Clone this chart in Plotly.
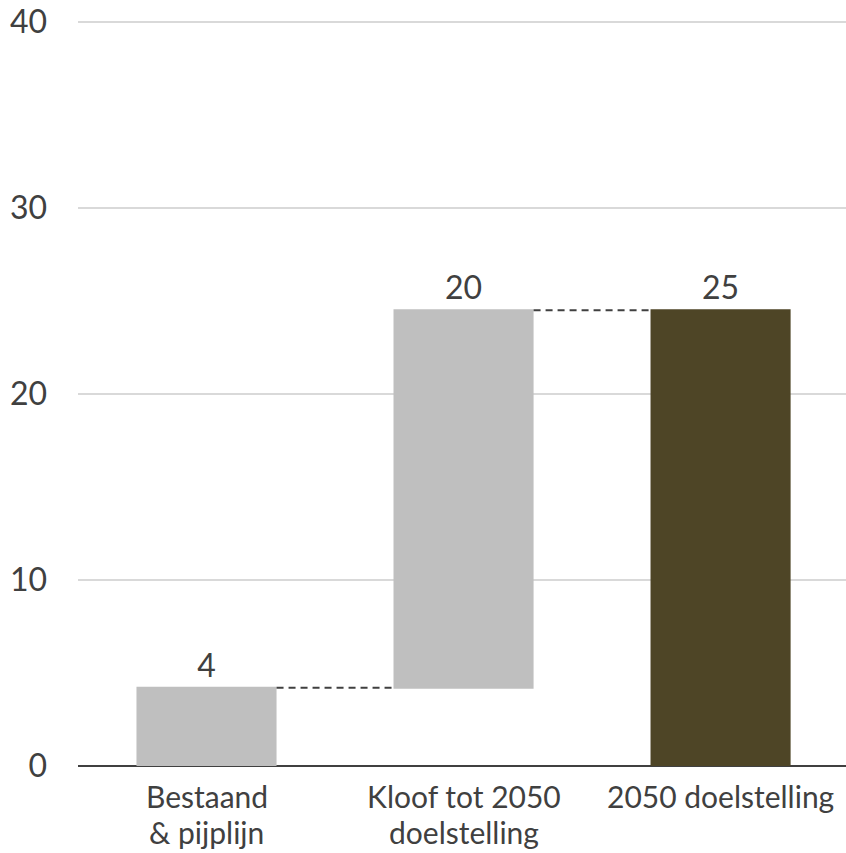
import plotly.graph_objects as go

# Waterfall: existing capacity, gap to target, 2050 target (total)
categories = ["Bestaand", "Kloof", "Doel"]
label_line1 = ["Bestaand", "Kloof tot 2050", "2050 doelstelling"]
label_line2 = ["& pijplijn", "doelstelling", ""]
steps = [4.2, 20.3, 0]          # last entry is the running total
measures = ["relative", "relative", "total"]
y_ticks = [0, 10, 20, 30, 40]

TEXT = "#404040"
FONT = "Lato, 'Open Sans', sans-serif"
FS = 32
FS_CAT = 30

fig = go.Figure(
    go.Waterfall(
        x=categories,
        y=steps,
        measure=measures,
        width=0.545,
        texttemplate=["%{delta:.0f}", "%{delta:.0f}", "%{final:.0f}"],
        textposition="outside",
        textfont=dict(family=FONT, size=FS, color=TEXT),
        increasing=dict(marker=dict(color="#bfbfbf", line=dict(width=0))),
        decreasing=dict(marker=dict(color="#bfbfbf", line=dict(width=0))),
        totals=dict(marker=dict(color="#4e4526", line=dict(width=0))),
        connector=dict(mode="between", line=dict(color=TEXT, width=2, dash="7px,5px")),
        cliponaxis=False,
        hoverinfo="skip",
    )
)

# Category labels, one annotation per line for tight line spacing
for cat, l1, l2 in zip(categories, label_line1, label_line2):
    fig.add_annotation(x=cat, y=0, xref="x", yref="paper", yanchor="top",
                       yshift=-11, text=l1, showarrow=False, borderpad=0,
                       font=dict(family=FONT, size=FS_CAT, color=TEXT))
    if l2:
        fig.add_annotation(x=cat, y=0, xref="x", yref="paper", yanchor="top",
                           yshift=-47, text=l2, showarrow=False, borderpad=0,
                           font=dict(family=FONT, size=FS_CAT, color=TEXT))

fig.update_layout(
    width=846,
    height=853,
    margin=dict(l=78, r=0, t=20, b=87),
    paper_bgcolor="white",
    plot_bgcolor="white",
    showlegend=False,
    font=dict(family=FONT, size=FS, color=TEXT),
    xaxis=dict(
        range=[-0.5, 2.488],
        showgrid=False,
        showline=False,
        ticks="",
        showticklabels=False,
    ),
    yaxis=dict(
        range=[0, 40.1],
        tickvals=y_ticks,
        showgrid=True,
        gridcolor="#d9d9d9",
        gridwidth=1.5,
        zeroline=True,
        zerolinecolor=TEXT,
        zerolinewidth=2,
        showline=False,
        ticks="",
        ticklabelstandoff=30,
        tickfont=dict(family=FONT, size=FS, color=TEXT),
    ),
)

fig.write_html("out.html")
